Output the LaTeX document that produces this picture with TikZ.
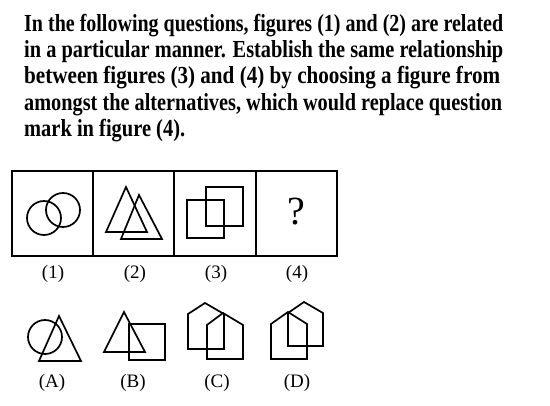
\documentclass[tikz,border=0pt]{standalone}
\usepackage{fontspec}
\setmainfont{Liberation Serif}
\usepackage{graphicx}

\tikzset{
  fig/.style={line width=1.7pt, line join=miter},
  lab/.style={font=\fontsize{19}{19}\selectfont, inner sep=0pt},
  qtext/.style={anchor=base west, inner sep=0pt, font=\bfseries\fontsize{24.5}{26}\selectfont}
}
\newcommand{\qline}[2]{\resizebox{#1}{\height}{#2}}

\begin{document}
\begin{tikzpicture}[x=1pt,y=-1pt]
        \useasboundingbox (0,0) rectangle (550,406);

        % question
        \node [qtext] (l1) at (24,32)  {\qline{479pt}{In the following questions, figures (1) and (2) are related}};
        \node [qtext] (l2) at (24,58)  {\qline{479pt}{in a particular manner. Establish the same relationship}};
        \node [qtext] (l3) at (24,84)  {\qline{476pt}{between figures (3) and (4) by choosing a figure from}};
        \node [qtext] (l4) at (24,111) {\qline{478pt}{amongst the alternatives, which would replace question}};
        \node [qtext] (l5) at (24,137) {\qline{161pt}{mark in figure (4).}};

        % problem figures
        \draw [fig]  (12,171) rectangle (337,256);
        \foreach \x in {93,174,256}
          \draw [fig]  (\x,171) -- (\x,256);

        \draw [fig]  (44,218) circle [radius=17];
        \draw [fig]  (63,210) circle [radius=17];

        \draw [fig]  (126,187) -- (106,232) -- (147,232) -- cycle;
        \draw [fig]  (139,195) -- (121,239) -- (162,239) -- cycle;

        \draw [fig]  (187,200) rectangle (224,238);
        \draw [fig]  (206,187) rectangle (243,226);

        \node [font=\fontsize{40}{40}\selectfont, inner sep=0pt] (qm) at (296,212) {?};

        \node [lab] (n1) at (53,274)  {(1)};
        \node [lab] (n2) at (135,274) {(2)};
        \node [lab] (n3) at (216,274) {(3)};
        \node [lab] (n4) at (297,274) {(4)};

        % answer figures
        \draw [fig]  (45,337) circle [radius=17];
        \draw [fig]  (59,316) -- (39,361) -- (81,361) -- cycle;

        \draw [fig]  (124,312) -- (104,352) -- (145,352) -- cycle;
        \draw [fig]  (129,324) rectangle (165,360);

        \draw [fig]  (188,349) -- (188,314) -- (205,303) -- (224,314) -- (224,349) -- cycle;
        \draw [fig]  (207,359) -- (207,325) -- (223,313) -- (243,325) -- (243,359) -- cycle;

        \draw [fig]  (271,359) -- (271,324) -- (288,312) -- (307,324) -- (307,359) -- cycle;
        \draw [fig]  (288,346) -- (288,313) -- (304,302) -- (323,313) -- (323,346) -- cycle;

        \node [lab] (na) at (52,383)  {(A)};
        \node [lab] (nb) at (133,383) {(B)};
        \node [lab] (nc) at (217,383) {(C)};
        \node [lab] (nd) at (297,383) {(D)};
      \end{tikzpicture}
\end{document}
